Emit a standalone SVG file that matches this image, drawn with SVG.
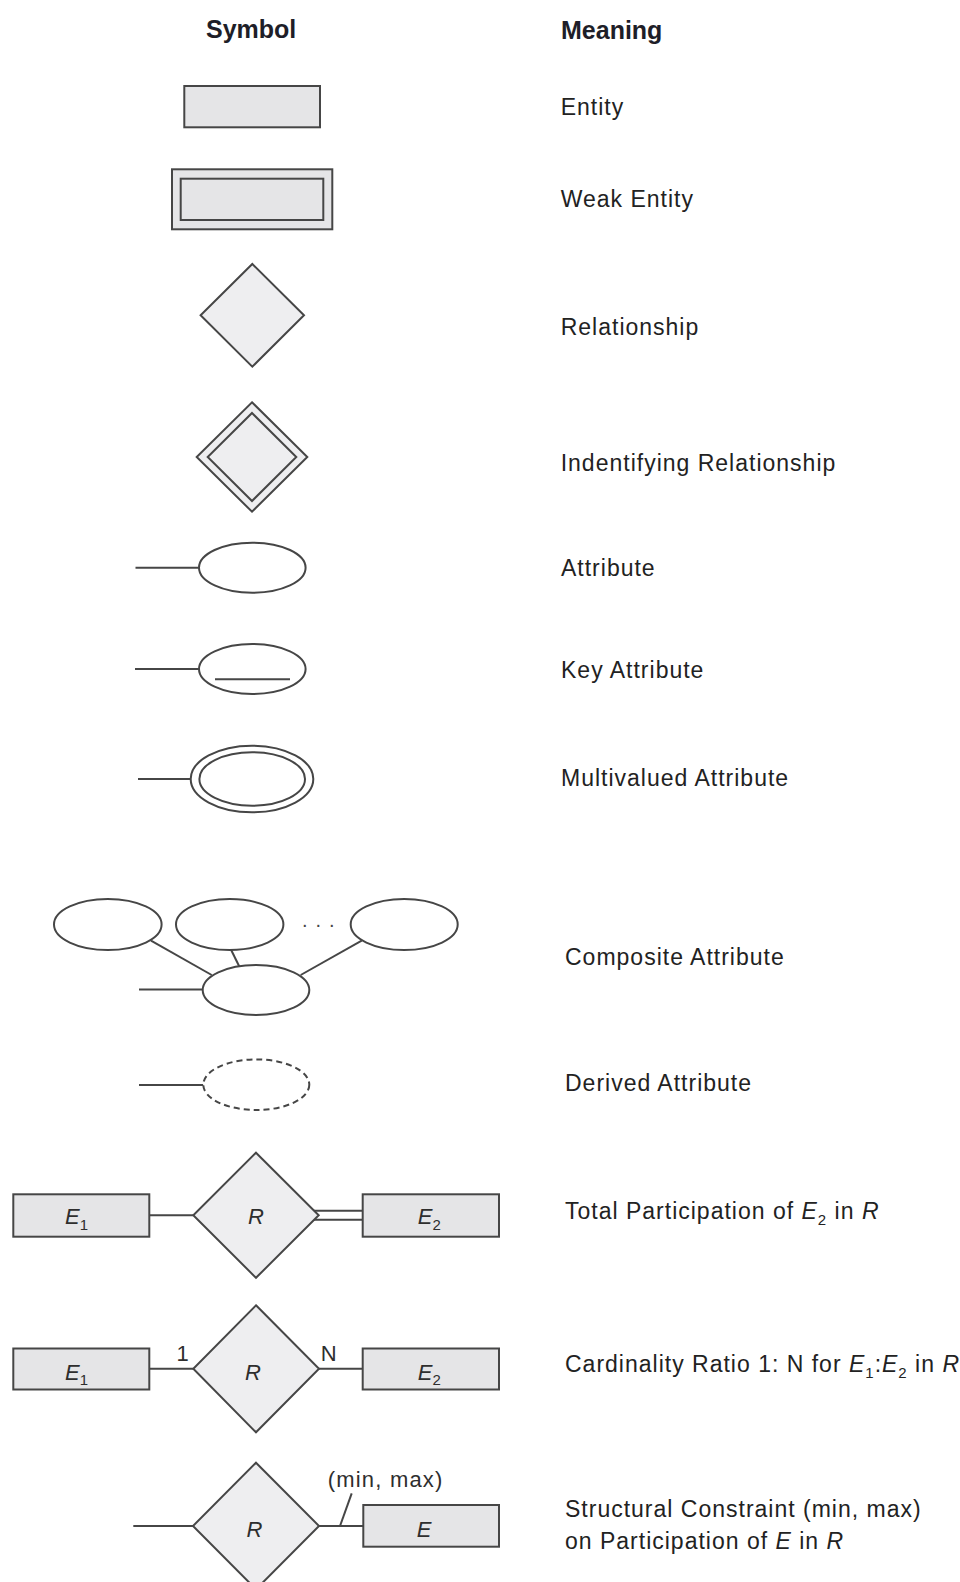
<svg xmlns="http://www.w3.org/2000/svg" width="960" height="1582" viewBox="0 0 960 1582">
<style>
  .ln { stroke:#464646; stroke-width:2; fill:none; }
  .ent { stroke:#464646; stroke-width:2; fill:#e5e5e7; }
  .rel { stroke:#464646; stroke-width:2; fill:#eeeef0; }
  .att { stroke:#464646; stroke-width:2; fill:#ffffff; }
  .dash { stroke:#464646; stroke-width:2; fill:#ffffff; stroke-dasharray:6 4; }
  .hdr { font-family:"Liberation Sans", Arial, sans-serif; font-weight:bold; font-size:25px; fill:#1e1e28; }
  .txt { font-family:"Liberation Sans", Arial, sans-serif; font-size:23px; fill:#222222; letter-spacing:1px; }
  .lbl { font-family:"Liberation Sans", Arial, sans-serif; font-size:22px; fill:#2e2e2e; }
  .it { font-style:italic; }
  .sub { font-size:15px; }
</style>
<rect x="0" y="0" width="960" height="1582" fill="#ffffff"/>

<g id="headers">
  <text class="hdr" x="206" y="38">Symbol</text>
  <text class="hdr" x="561" y="39">Meaning</text>
</g>

<g id="connectors">
  <line class="ln" x1="135.5" y1="567.7" x2="199" y2="567.7"/>
  <line class="ln" x1="135" y1="669" x2="199" y2="669"/>
  <line class="ln" x1="138" y1="779" x2="191" y2="779"/>
  <line class="ln" x1="151" y1="940.7" x2="211.7" y2="975"/>
  <line class="ln" x1="230.7" y1="949" x2="239.3" y2="966.5"/>
  <line class="ln" x1="361.7" y1="940.7" x2="300.7" y2="975"/>
  <line class="ln" x1="139" y1="989.5" x2="203" y2="989.5"/>
  <line class="ln" x1="139" y1="1085" x2="203.3" y2="1085"/>
  <line class="ln" x1="149.3" y1="1215.3" x2="193.3" y2="1215.3"/>
  <line class="ln" x1="313.5" y1="1210.8" x2="362.7" y2="1210.8"/>
  <line class="ln" x1="313.5" y1="1219.8" x2="362.7" y2="1219.8"/>
  <line class="ln" x1="149.3" y1="1368.8" x2="193.3" y2="1368.8"/>
  <line class="ln" x1="319" y1="1368.8" x2="362.7" y2="1368.8"/>
  <line class="ln" x1="133.3" y1="1526" x2="193" y2="1526"/>
  <line class="ln" x1="319" y1="1526" x2="363.3" y2="1526"/>
  <line class="ln" x1="340" y1="1526" x2="351.7" y2="1493.3"/>
</g>

<g id="entity">
  <rect class="ent" x="184.3" y="86" width="135.7" height="41.3"/>
  <text class="txt" x="560.7" y="115">Entity</text>
</g>

<g id="weak-entity">
  <rect class="ent" x="172" y="169.3" width="160.3" height="60"/>
  <rect class="ent" x="180.7" y="178.7" width="142.6" height="41.3"/>
  <text class="txt" x="560.7" y="207.3">Weak Entity</text>
</g>

<g id="relationship">
  <polygon class="rel" points="252.3,264 304,315.3 252.3,366.7 200.6,315.3"/>
  <text class="txt" x="560.7" y="335">Relationship</text>
</g>

<g id="identifying-relationship">
  <polygon class="rel" points="252,402.3 307.3,457 252,511.7 196.7,457"/>
  <polygon class="rel" points="252,413 296.3,457 252,501 207.7,457"/>
  <text class="txt" x="560.7" y="470.7">Indentifying Relationship</text>
</g>

<g id="attribute">
  <ellipse class="att" cx="252.3" cy="567.7" rx="53.3" ry="25"/>
  <text class="txt" x="561" y="576">Attribute</text>
</g>

<g id="key-attribute">
  <ellipse class="att" cx="252.3" cy="669" rx="53.3" ry="25"/>
  <line class="ln" x1="215" y1="679.3" x2="290" y2="679.3"/>
  <text class="txt" x="561" y="677.5">Key Attribute</text>
</g>

<g id="multivalued-attribute">
  <ellipse class="att" cx="252" cy="779" rx="61.3" ry="33.3"/>
  <ellipse class="att" cx="252.2" cy="779" rx="52.8" ry="26.7"/>
  <text class="txt" x="561" y="785.5">Multivalued Attribute</text>
</g>

<g id="composite-attribute">
  <ellipse class="att" cx="107.8" cy="924.5" rx="53.8" ry="25.5"/>
  <ellipse class="att" cx="229.7" cy="924.5" rx="53.7" ry="25.5"/>
  <ellipse class="att" cx="404.2" cy="924.5" rx="53.5" ry="25.5"/>
  <text x="302" y="927" font-family="Liberation Sans, Arial, sans-serif" font-size="20" fill="#464646" letter-spacing="8">...</text>
  <ellipse class="att" cx="256" cy="990" rx="53.3" ry="25"/>
  <text class="txt" x="565" y="965">Composite Attribute</text>
</g>

<g id="derived-attribute">
  <ellipse class="dash" cx="256.3" cy="1084.7" rx="53" ry="25.3"/>
  <text class="txt" x="565" y="1091">Derived Attribute</text>
</g>

<g id="total-participation">
  <rect class="ent" x="13.3" y="1194.3" width="136" height="42.4"/>
  <text class="lbl" x="65" y="1224.3"><tspan class="it">E</tspan><tspan class="sub" dy="6">1</tspan></text>
  <polygon class="rel" points="256,1152.7 318.7,1215.3 256,1277.8 193.3,1215.3"/>
  <text class="lbl it" x="256" y="1224.3" text-anchor="middle">R</text>
  <rect class="ent" x="362.7" y="1194.3" width="136.3" height="42.4"/>
  <text class="lbl" x="417.7" y="1224.3"><tspan class="it">E</tspan><tspan class="sub" dy="6">2</tspan></text>
  <text class="txt" x="565" y="1219">Total Participation of <tspan class="it">E</tspan><tspan class="sub" dy="6">2</tspan><tspan dy="-6"> in </tspan><tspan class="it">R</tspan></text>
</g>

<g id="cardinality-ratio">
  <rect class="ent" x="13.3" y="1348.5" width="136" height="41"/>
  <text class="lbl" x="65" y="1379.5"><tspan class="it">E</tspan><tspan class="sub" dy="5">1</tspan></text>
  <polygon class="rel" points="256,1305.3 319,1368.8 256,1432.3 193.3,1368.8"/>
  <text class="lbl it" x="253" y="1379.5" text-anchor="middle">R</text>
  <rect class="ent" x="362.7" y="1348.5" width="136.3" height="41"/>
  <text class="lbl" x="417.7" y="1379.5"><tspan class="it">E</tspan><tspan class="sub" dy="5">2</tspan></text>
  <text class="lbl" x="176.5" y="1361">1</text>
  <text class="lbl" x="320.7" y="1361">N</text>
  <text class="txt" x="565" y="1372">Cardinality Ratio 1: N for <tspan class="it">E</tspan><tspan class="sub" dy="6">1</tspan><tspan dy="-6">:</tspan><tspan class="it">E</tspan><tspan class="sub" dy="6">2</tspan><tspan dy="-6"> in </tspan><tspan class="it">R</tspan></text>
</g>

<g id="structural-constraint">
  <polygon class="rel" points="256,1462.7 319,1526 256,1589.3 193,1526"/>
  <text class="lbl it" x="254.5" y="1536.7" text-anchor="middle">R</text>
  <rect class="ent" x="363.3" y="1505" width="135.7" height="41.7"/>
  <text class="lbl it" x="424" y="1536.7" text-anchor="middle">E</text>
  <text class="lbl" x="327.7" y="1486.7" font-size="21" letter-spacing="1.2">(min, max)</text>
  <text class="txt" x="565" y="1517">Structural Constraint (min, max)</text>
  <text class="txt" x="565" y="1548.5">on Participation of <tspan class="it">E</tspan> in <tspan class="it">R</tspan></text>
</g>
</svg>
